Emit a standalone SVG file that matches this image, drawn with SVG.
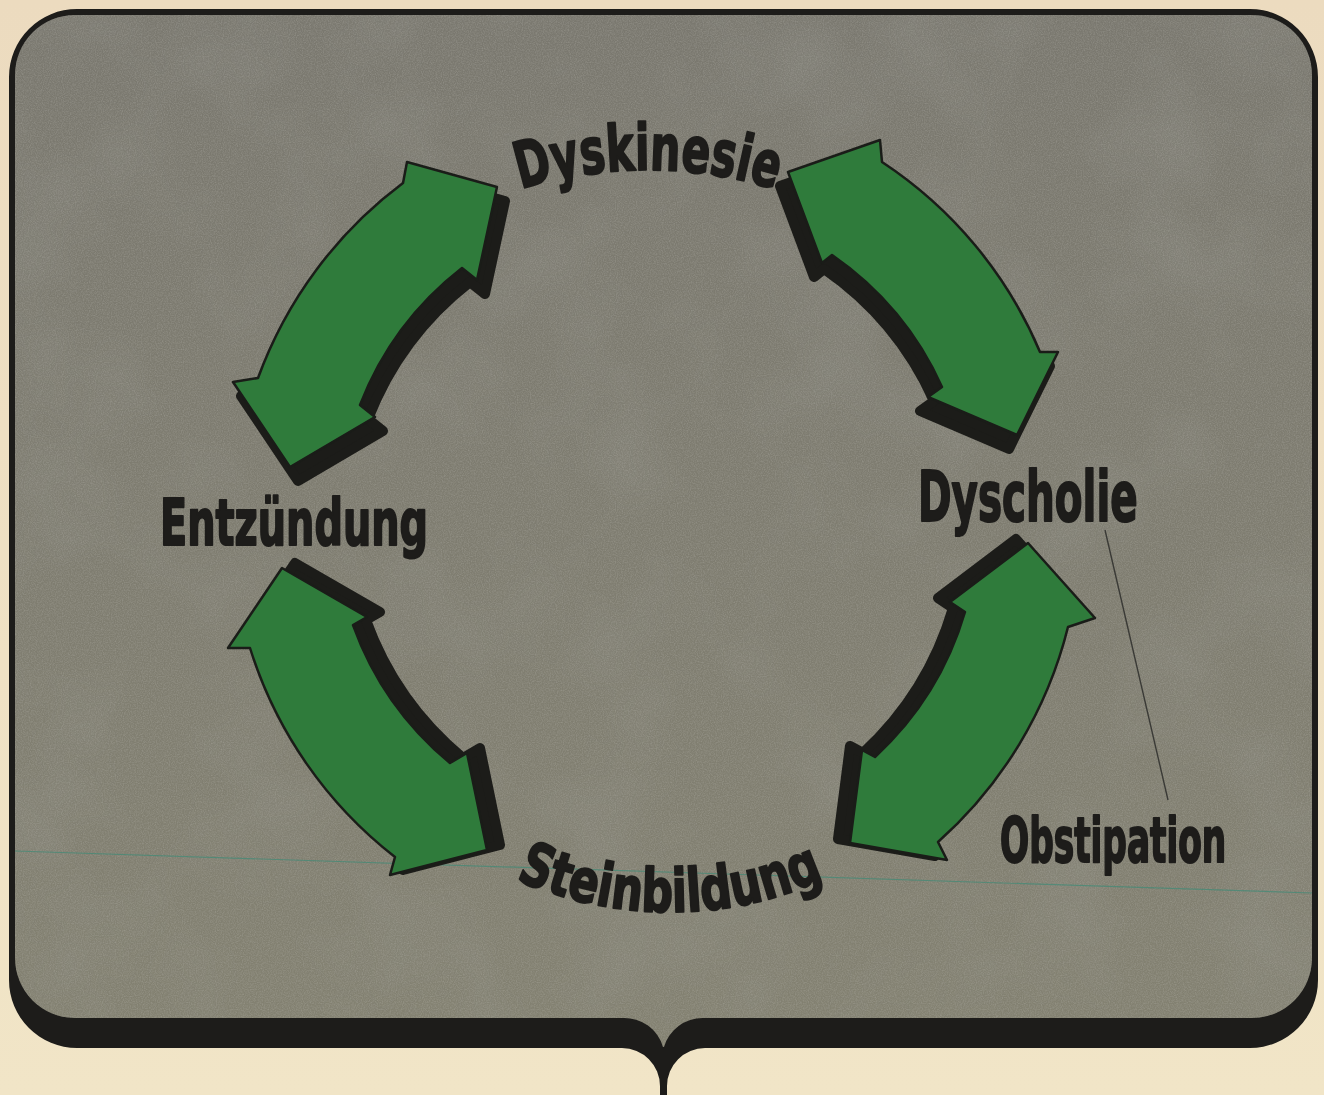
<svg xmlns="http://www.w3.org/2000/svg" xmlns:xlink="http://www.w3.org/1999/xlink" width="1324" height="1095" viewBox="0 0 1324 1095">
<style>
.lbl{font-family:"Liberation Sans Narrow","DejaVu Sans Condensed","Liberation Sans",sans-serif;font-weight:bold;fill:#1d1c1a;stroke:#1d1c1a;stroke-width:2;stroke-linejoin:round}
.arrow{fill:#2f7b3b;stroke:#1a1c18;stroke-width:2.5;stroke-linejoin:round}
.shadow{fill:#1c1c19;stroke:#1c1c19;stroke-width:10;stroke-linejoin:round}
.leader{stroke:#3a3a36;stroke-width:1.4;fill:none}
</style>
<defs>
<linearGradient id="bg" x1="0" y1="0" x2="0" y2="1">
<stop offset="0" stop-color="#ecdbbf"/>
<stop offset="1" stop-color="#f1e5c7"/>
</linearGradient>
<linearGradient id="panelFill" x1="0" y1="0" x2="0" y2="1">
<stop offset="0" stop-color="#7a786f"/>
<stop offset="1" stop-color="#838171"/>
</linearGradient>
<filter id="mottle" x="0" y="0" width="1" height="1">
<feTurbulence type="fractalNoise" baseFrequency="0.009" numOctaves="3" seed="7" result="n"/>
<feColorMatrix in="n" type="matrix" values="0 0 0 0 0.3  0 0 0 0 0.3  0 0 0 0 0.27  0.6 0 0 0 -0.27"/>
</filter>
<filter id="grain" x="0" y="0" width="1" height="1">
<feTurbulence type="fractalNoise" baseFrequency="0.85" numOctaves="2" seed="3" result="g"/>
<feColorMatrix in="g" type="matrix" values="0 0 0 0 0.55  0 0 0 0 0.54  0 0 0 0 0.5  0.5 0 0 0 -0.18"/>
</filter>
<clipPath id="panelClip">
<path id="panelPath" d="M75,15 H1252 A60 60 0 0 1 1312,75 V958 A60 60 0 0 1 1252,1018 H703 A40 40 0 0 0 664,1047 H663 A40 40 0 0 0 623,1018 H75 A60 60 0 0 1 15,958 V75 A60 60 0 0 1 75,15 Z"/>
</clipPath>
<path id="a-ul" d="M403,183 L407,162 L497,187 L477,280 L462,268 A320 320 0 0 0 360,405 L375,417 L290,467 L233,382 L258,378 A425 425 0 0 1 403,183 Z"/>
<path id="a-ur" d="M882,162 A425 425 0 0 1 1040,352 L1058,352 L1017,435 L928,397 L942,387 A320 320 0 0 0 832,255 L822,263 L788,172 L880,140 Z"/>
<path id="a-lr" d="M1068,627 A425 425 0 0 1 938,842 L947,860 L850,843 L862,750 L875,757 A320 320 0 0 0 965,612 L950,602 L1028,543 L1095,618 Z"/>
<path id="a-ll" d="M353,625 A320 320 0 0 0 450,763 L467,753 L487,850 L390,875 L395,857 A425 425 0 0 1 250,648 L228,648 L282,568 L367,617 Z"/>
<path id="arcTop" d="M218,600 A430 430 0 0 1 1078,600"/>
<path id="arcBottom" d="M288,530 A382 382 0 0 0 1052,530"/>
</defs>

<rect width="1324" height="1095" fill="url(#bg)"/>

<g id="panel">
<path d="M77,9 H1250 A68 68 0 0 1 1318,77 V980 A68 68 0 0 1 1250,1048 H705 A38 38 0 0 0 667,1086 V1096 H660 V1086 A38 38 0 0 0 622,1048 H77 A68 68 0 0 1 9,980 V77 A68 68 0 0 1 77,9 Z" fill="#1d1c1a"/>
<use xlink:href="#panelPath" href="#panelPath" fill="url(#panelFill)"/>
<g clip-path="url(#panelClip)">
<rect x="0" y="0" width="1324" height="1095" filter="url(#mottle)"/>
<rect x="0" y="0" width="1324" height="1095" filter="url(#grain)"/>
</g>
<line x1="15" y1="851" x2="1312" y2="893" stroke="#3f8a76" stroke-width="1.2" opacity="0.7"/>
</g>

<g id="connectors">
<g id="arrow-dyskinesie-entzuendung">
<use href="#a-ul" class="shadow" transform="translate(8,14)"/>
<use href="#a-ul" class="arrow"/>
</g>
<g id="arrow-dyskinesie-dyscholie">
<use href="#a-ur" class="shadow" transform="translate(-8,14)"/>
<use href="#a-ur" class="arrow"/>
</g>
<g id="arrow-dyscholie-steinbildung">
<use href="#a-lr" class="shadow" transform="translate(-12,-4)"/>
<use href="#a-lr" class="arrow"/>
</g>
<g id="arrow-steinbildung-entzuendung">
<use href="#a-ll" class="shadow" transform="translate(13,-5)"/>
<use href="#a-ll" class="arrow"/>
</g>
<line id="leader-obstipation" class="leader" x1="1105" y1="530" x2="1168" y2="800"/>
</g>

<g id="node-dyskinesie">
<text class="lbl" font-size="64"><textPath href="#arcTop" startOffset="50%" text-anchor="middle" textLength="258" lengthAdjust="spacingAndGlyphs">Dyskinesie</textPath></text>
</g>
<g id="node-dyscholie">
<text class="lbl" transform="translate(918,521) scale(0.65,1)" x="0" y="0" font-size="70" textLength="338" lengthAdjust="spacingAndGlyphs">Dyscholie</text>
</g>
<g id="node-entzuendung">
<text class="lbl" transform="translate(160,545) scale(0.7,1)" x="0" y="0" font-size="64" textLength="383" lengthAdjust="spacingAndGlyphs">Entzündung</text>
</g>
<g id="node-steinbildung">
<text class="lbl" font-size="60"><textPath href="#arcBottom" startOffset="50%" text-anchor="middle" textLength="318" lengthAdjust="spacingAndGlyphs">Steinbildung</textPath></text>
</g>
<g id="node-obstipation">
<text class="lbl" transform="translate(1000,862) scale(0.6,1)" x="0" y="0" font-size="62" textLength="377" lengthAdjust="spacingAndGlyphs">Obstipation</text>
</g>
</svg>
